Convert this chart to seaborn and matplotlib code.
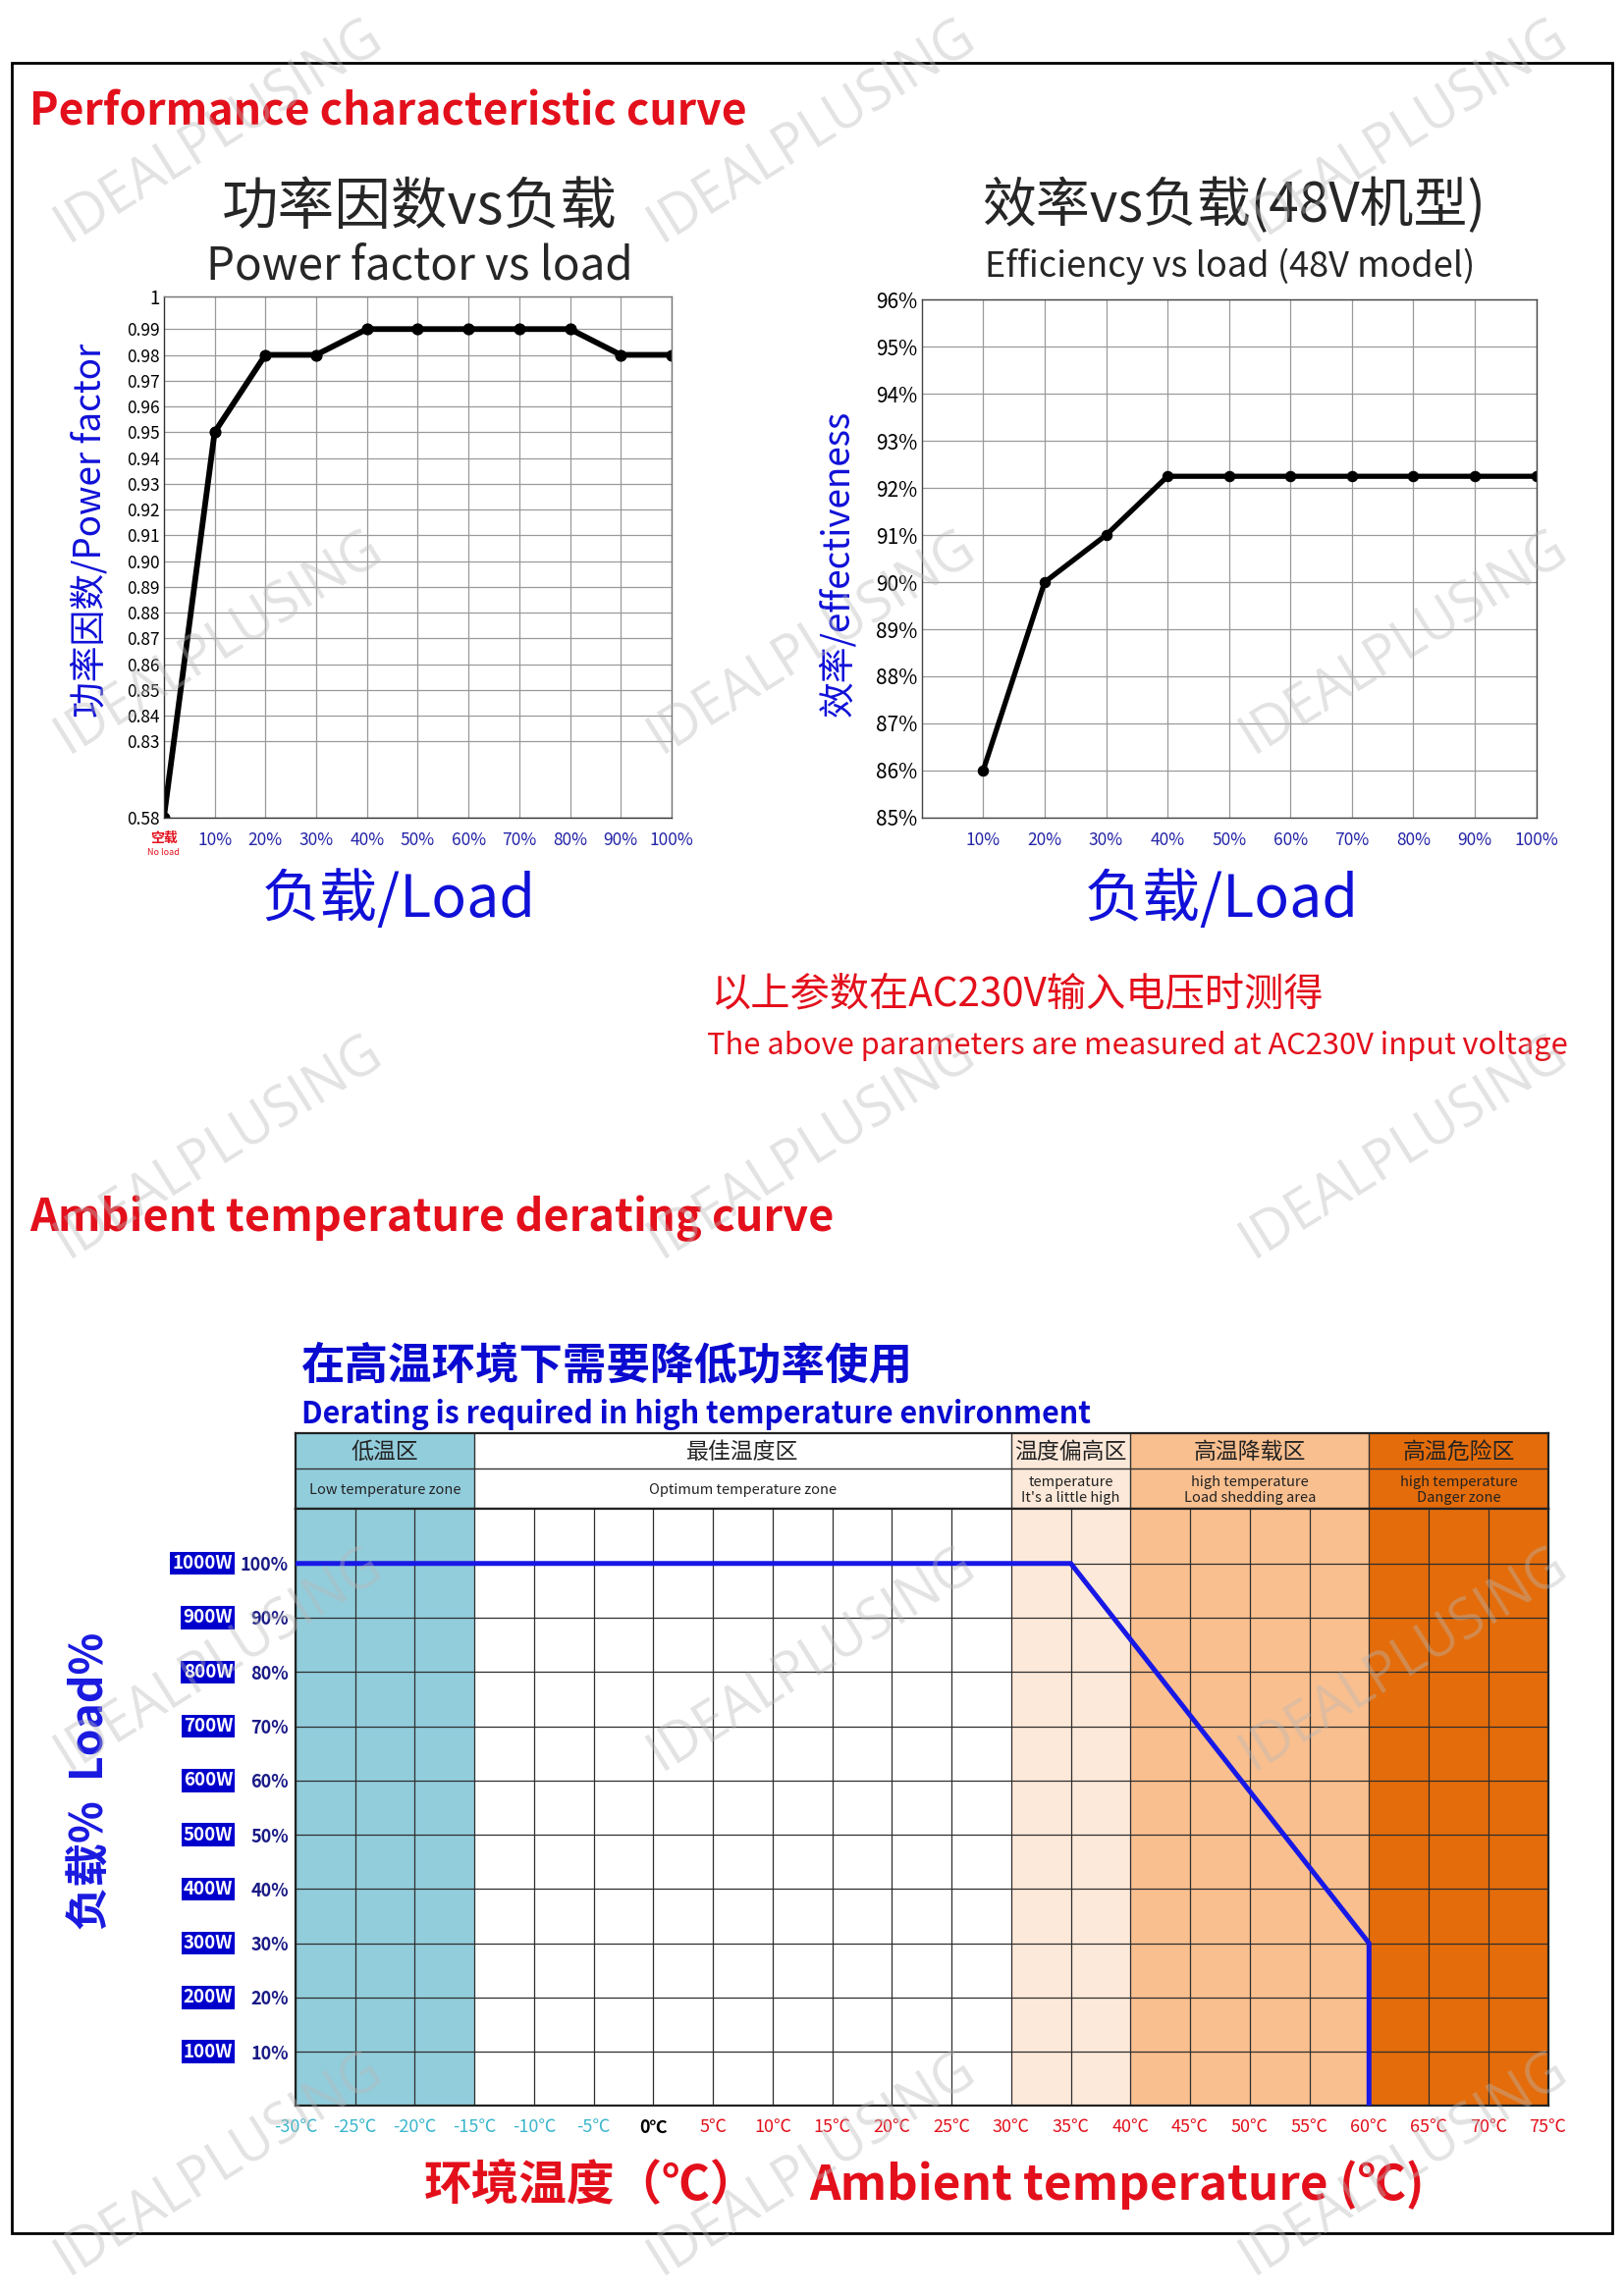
import numpy as np
import pandas as pd
import matplotlib
matplotlib.use("Agg")
import matplotlib.pyplot as plt
import matplotlib.transforms as mtransforms
from matplotlib.patches import Rectangle
import seaborn as sns

# ---------------- data ----------------
pf_load = [0, 10, 20, 30, 40, 50, 60, 70, 80, 90, 100]
pf_values = [0.58, 0.95, 0.98, 0.98, 0.99, 0.99, 0.99, 0.99, 0.99, 0.98, 0.98]
pf_ticks = [0.58, 0.83, 0.84, 0.85, 0.86, 0.87, 0.88, 0.89, 0.90, 0.91,
            0.92, 0.93, 0.94, 0.95, 0.96, 0.97, 0.98, 0.99, 1.0]
pf_tick_labels = ["0.58", "0.83", "0.84", "0.85", "0.86", "0.87", "0.88", "0.89",
                  "0.90", "0.91", "0.92", "0.93", "0.94", "0.95", "0.96", "0.97",
                  "0.98", "0.99", "1"]

eff_load = [10, 20, 30, 40, 50, 60, 70, 80, 90, 100]
eff_values = [86, 90, 91, 92.25, 92.25, 92.25, 92.25, 92.25, 92.25, 92.25]
eff_ticks = [85, 86, 87, 88, 89, 90, 91, 92, 93, 94, 95, 96]

load_ticks = [10, 20, 30, 40, 50, 60, 70, 80, 90, 100]
load_labels = ["10%", "20%", "30%", "40%", "50%", "60%", "70%", "80%", "90%", "100%"]

derate_temp = [-30, 35, 60, 60]
derate_load = [100, 100, 30, 0]
temp_ticks = [-30, -25, -20, -15, -10, -5, 0, 5, 10, 15, 20, 25, 30, 35, 40, 45,
              50, 55, 60, 65, 70, 75]
pct_ticks = [10, 20, 30, 40, 50, 60, 70, 80, 90, 100]
pct_labels = ["10%", "20%", "30%", "40%", "50%", "60%", "70%", "80%", "90%", "100%"]
watt_labels = ["100W", "200W", "300W", "400W", "500W", "600W", "700W", "800W",
               "900W", "1000W"]

zone_edges = [-30, -15, 30, 40, 60, 75]
zone_colors = ["#92CDDC", "#FFFFFF", "#FDE9D9", "#F9BF8F", "#E46C0A"]
zone_cn = ["低温区", "最佳温度区", "温度偏高区", "高温降载区", "高温危险区"]
zone_en = ["Low temperature zone", "Optimum temperature zone",
           "temperature\nIt's a little high", "high temperature\nLoad shedding area",
           "high temperature\nDanger zone"]

# ---------------- style ----------------
sns.set_theme(style="white")
plt.rcParams["font.family"] = ["Noto Sans CJK SC", "DejaVu Sans"]
plt.rcParams["axes.unicode_minus"] = False

RED = "#e3101c"
BLUE = "#1010d8"
DBLUE = "#2424a8"

W, H = 1110.0, 1570.0
DY = 4  # text vertical correction
def fx(x):
    return x / W
def fy(y):
    return 1 - y / H
def ty(y):
    return fy(y + DY)

fig = plt.figure(figsize=(16.54, 23.39), dpi=100)
fig.patch.set_facecolor("white")

# outer border
fig.add_artist(Rectangle((fx(8), fy(1527)), fx(1102) - fx(8), fy(43) - fy(1527),
                         transform=fig.transFigure, fill=False, ec="black", lw=2))

fig.text(fx(20), ty(73), "Performance characteristic curve", color=RED,
         fontsize=32, fontweight="bold", ha="left", va="center")

# ---------------- power factor chart ----------------
ax1 = fig.add_axes([fx(112), fy(559), fx(459) - fx(112), fy(203) - fy(559)])
kv = [0.58, 0.83, 0.99, 1.0]
kp = [0.0, 2.95, 18.95, 20.2]
ax1.set_yscale("function", functions=(lambda v: np.interp(v, kv, kp),
                                      lambda p: np.interp(p, kp, kv)))
df_pf = pd.DataFrame({"load": pf_load, "pf": pf_values})
sns.lineplot(data=df_pf, x="load", y="pf", ax=ax1, color="black", lw=4.2,
             marker="o", markersize=8, markeredgecolor="black",
             estimator=None, sort=False)
ax1.set_xlim(0, 100)
ax1.set_ylim(0.58, 1.0)
ax1.set_yticks(pf_ticks)
ax1.set_yticklabels(pf_tick_labels)
ax1.set_xticks(load_ticks)
ax1.set_xticklabels(load_labels)
ax1.set_xlabel("")
ax1.set_ylabel("")
ax1.grid(True, color="#9a9a9a", lw=0.9)
ax1.set_axisbelow(True)
for s in ax1.spines.values():
    s.set_color("#777777"); s.set_linewidth(1.0)
ax1.spines["bottom"].set_color("#333333")
ax1.spines["left"].set_color("#333333")
ax1.tick_params(axis="y", labelsize=12.5, colors="black", pad=3, length=0)
ax1.tick_params(axis="x", labelsize=12.5, colors=DBLUE, pad=10, length=0)
ax1.get_yticklabels()[-1].set_fontsize(13.5)
tr1 = mtransforms.blended_transform_factory(ax1.transData, ax1.transAxes)
ax1.text(0, -0.04, "空载", transform=tr1, color=RED, fontsize=10,
         fontweight="bold", ha="center", va="center")
ax1.text(0, -0.068, "No load", transform=tr1, color=RED, fontsize=6.5,
         ha="center", va="center")

fig.text(fx(287), ty(138), "功率因数vs负载", fontsize=41.5, ha="center", va="center")
fig.text(fx(287), ty(178), "Power factor vs load", fontsize=33, ha="center", va="center")
fig.text(fx(62), fy(363), "功率因数/Power factor", fontsize=26.5, color=BLUE,
         rotation=90, ha="center", va="center")
fig.text(fx(273), ty(612), "负载/Load", fontsize=42.5, color=BLUE, ha="center", va="center")

# ---------------- efficiency chart ----------------
ax2 = fig.add_axes([fx(630), fy(559), fx(1050) - fx(630), fy(205) - fy(559)])
df_eff = pd.DataFrame({"load": eff_load, "eff": eff_values})
sns.lineplot(data=df_eff, x="load", y="eff", ax=ax2, color="black", lw=3.8,
             marker="o", markersize=7.5, markeredgecolor="black",
             estimator=None, sort=False)
ax2.set_xlim(0, 100)
ax2.set_ylim(85, 96)
ax2.set_yticks(eff_ticks)
ax2.set_yticklabels([f"{t}%" for t in eff_ticks])
ax2.set_xticks(load_ticks)
ax2.set_xticklabels(load_labels)
ax2.set_xlabel("")
ax2.set_ylabel("")
ax2.grid(True, color="#9a9a9a", lw=0.9)
ax2.set_axisbelow(True)
for s in ax2.spines.values():
    s.set_color("#444444"); s.set_linewidth(1.0)
ax2.tick_params(axis="y", labelsize=15, colors="black", pad=3, length=0)
ax2.tick_params(axis="x", labelsize=12.5, colors=DBLUE, pad=10, length=0)

fig.text(fx(843), ty(137), "效率vs负载(48V机型)", fontsize=39.5, ha="center", va="center")
fig.text(fx(841), ty(178), "Efficiency vs load (48V model)", fontsize=26,
         ha="center", va="center")
fig.text(fx(573), fy(385), "效率/effectiveness", fontsize=26.5, color=BLUE,
         rotation=90, ha="center", va="center")
fig.text(fx(835), ty(612), "负载/Load", fontsize=42.5, color=BLUE, ha="center", va="center")

fig.text(fx(486), ty(676), "以上参数在AC230V输入电压时测得", fontsize=29, color=RED,
         ha="left", va="center")
fig.text(fx(483), ty(711), "The above parameters are measured at AC230V input voltage",
         fontsize=22.2, color=RED, ha="left", va="center")

# ---------------- derating chart ----------------
fig.text(fx(20), ty(829), "Ambient temperature derating curve", color=RED,
         fontsize=32.5, fontweight="bold", ha="left", va="center")
fig.text(fx(206), ty(930), "在高温环境下需要降低功率使用", color="#0a0ad0",
         fontsize=32, fontweight="bold", ha="left", va="center")
fig.text(fx(206), ty(963), "Derating is required in high temperature environment",
         color="#0a0ad0", fontsize=21.8, fontweight="bold", ha="left", va="center")

# header table
axh = fig.add_axes([fx(202), fy(1032), fx(1058) - fx(202), fy(980) - fy(1032)])
axh.set_xlim(-30, 75)
axh.set_ylim(0, 52)
for i in range(len(zone_cn)):
    lo, hi = zone_edges[i], zone_edges[i + 1]
    axh.axvspan(lo, hi, color=zone_colors[i], zorder=0, lw=0)
    axh.text((lo + hi) / 2, 39, zone_cn[i], fontsize=16.5, ha="center", va="center",
             color="#222222")
    axh.text((lo + hi) / 2, 13, zone_en[i], fontsize=10.5, ha="center", va="center",
             color="#222222", linespacing=1.2)
for e in zone_edges[1:-1]:
    axh.axvline(e, color="#333333", lw=1.0)
axh.axhline(28, color="#333333", lw=1.0)
axh.set_xticks([]); axh.set_yticks([])
for s in axh.spines.values():
    s.set_color("#222222"); s.set_linewidth(1.6)

ax3 = fig.add_axes([fx(202), fy(1440), fx(1058) - fx(202), fy(1032) - fy(1440)])
for i in range(len(zone_cn)):
    ax3.axvspan(zone_edges[i], zone_edges[i + 1], color=zone_colors[i], zorder=0, lw=0)
df_der = pd.DataFrame({"temp": derate_temp, "load": derate_load})
sns.lineplot(data=df_der, x="temp", y="load", ax=ax3, color="#1818e6", lw=3.6,
             estimator=None, sort=False, zorder=5)
ax3.set_xlim(-30, 75)
ax3.set_ylim(0, 110)
ax3.set_xticks(temp_ticks)
ax3.set_xticklabels([f"{t}℃" for t in temp_ticks])
ax3.set_yticks(pct_ticks)
ax3.set_yticklabels(pct_labels)
ax3.set_xlabel("")
ax3.set_ylabel("")
ax3.grid(True, color="#2e2e2e", lw=0.9, zorder=1)
ax3.set_axisbelow("line")
for s in ax3.spines.values():
    s.set_color("#222222"); s.set_linewidth(1.6)
ax3.tick_params(axis="y", labelsize=13, colors="#1a1a86", pad=5, length=0)
ax3.tick_params(axis="x", labelsize=13, pad=9, length=0)
for lab in ax3.get_yticklabels():
    lab.set_fontweight("bold")
for t, lab in zip(temp_ticks, ax3.get_xticklabels()):
    lab.set_color("#3ab6cc" if t < 0 else ("black" if t == 0 else RED))
    if t == 0:
        lab.set_fontweight("bold")
tr3 = mtransforms.blended_transform_factory(ax3.transAxes, ax3.transData)
for p, w in zip(pct_ticks, watt_labels):
    ax3.text(-0.05, p, w, transform=tr3, ha="right", va="center", color="white",
             fontsize=13.5, fontweight="bold",
             bbox=dict(boxstyle="square,pad=0.12", fc="#0000cc", ec="none"))

fig.text(fx(62), fy(1218), "负载%  Load%", fontsize=32, fontweight="bold",
         color="#1a1ae0", rotation=90, ha="center", va="center")
fig.text(fx(290), ty(1490), "环境温度（℃）", fontsize=35, fontweight="bold",
         color=RED, ha="left", va="center")
fig.text(fx(553), ty(1490), "Ambient temperature (℃)", fontsize=35.5, fontweight="bold",
         color=RED, ha="left", va="center")

# ---------------- watermarks ----------------
wm_x = [150, 555, 960]
wm_y = [90, 440, 785, 1135, 1480]
for yy in wm_y:
    for xx in wm_x:
        fig.text(fx(xx), fy(yy), "IDEALPLUSING", fontsize=40, color="#b8b8b8",
                 alpha=0.4, rotation=32, ha="center", va="center", zorder=100,
                 family=["Open Sans", "DejaVu Sans"])

fig.savefig("out.png", dpi=100, facecolor="white")
